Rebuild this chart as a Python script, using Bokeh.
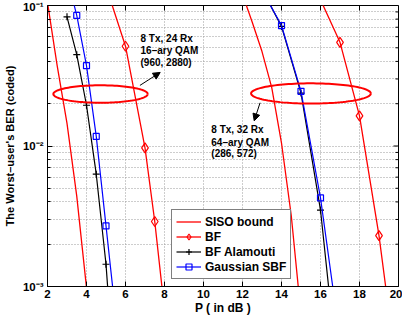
import numpy as np
from bokeh.plotting import figure
from bokeh.models import (FixedTicker, Legend, LegendItem,
                          Arrow, NormalHead, CustomJSTickFormatter)
from bokeh.core.properties import value
from bokeh.embed import file_html
from bokeh.resources import INLINE

# ---------------- data ----------------
# 8 Tx, 24 Rx, 16-ary QAM group
P_siso1 = [2.0, 2.5, 3.0, 3.5, 4.0]
ber_siso1 = [0.105, 0.037, 0.0145, 0.0044, 0.00098]
P_bf1 = [5.0, 6.0, 7.0, 7.5, 8.0]
ber_bf1 = [0.137, 0.0513, 0.0097, 0.0029, 0.00068]
P_ala1 = [3.0, 3.5, 4.0, 4.5, 5.0, 5.5]
ber_ala1 = [0.083, 0.0447, 0.0195, 0.0063, 0.00144, 0.00016]
P_sbf1 = [3.0, 3.5, 4.0, 4.5, 5.0, 5.5]
ber_sbf1 = [0.16, 0.085, 0.0373, 0.0117, 0.0027, 0.00062]

# 8 Tx, 32 Rx, 64-ary QAM group
P_siso2 = [12.0, 12.5, 13.0, 13.5, 14.0, 14.5, 15.0]
ber_siso2 = [0.12, 0.076, 0.047, 0.026, 0.0105, 0.0032, 0.00063]
P_bf2 = [16.0, 17.0, 18.0, 19.0, 20.0]
ber_bf2 = [0.11, 0.0547, 0.0164, 0.0023, 0.0002]
P_ala2 = [13.0, 14.0, 15.0, 16.0, 17.0]
ber_ala2 = [0.13, 0.071, 0.0238, 0.0035, 0.00017]
P_sbf2 = [13.0, 14.0, 15.0, 16.0, 17.0]
ber_sbf2 = [0.129, 0.072, 0.0245, 0.00427, 0.00042]

x_ticks = [2, 4, 6, 8, 10, 12, 14, 16, 18, 20]
y_ticks = [1e-3, 1e-2, 1e-1]
y_minor = [m * 10.0 ** e for e in (-3, -2) for m in range(2, 10)]

legend_labels = ["SISO bound", "BF", "BF Alamouti", "Gaussian SBF"]

# annotations
ell_cx = [4.72, 15.51]
ell_cy_log = [-1.63, -1.626]
ell_ax = [2.42, 3.07]
ell_ay = [0.062, 0.072]

arrow_start = [(6.74, 0.027), (12.9, 0.0203)]
arrow_end = [(7.78, 0.0334), (12.6, 0.0151)]

note1_lines = ["8 Tx, 24 Rx", "16\u2013ary QAM", "(960, 2880)"]
note1_x = 6.77
note1_y = [0.058, 0.0482, 0.0394]
note2_lines = ["8 Tx, 32 Rx", "64\u2013ary QAM", "(286, 572)"]
note2_x = 10.4
note2_y = [0.01315, 0.01054, 0.00885]

FONT = "Liberation Sans"

# ---------------- figure ----------------
p = figure(width=402, height=317, y_axis_type="log",
           x_range=(2, 20), y_range=(1e-3, 1e-1),
           output_backend="svg", toolbar_location=None,
           min_border_left=42, min_border_right=4,
           min_border_top=5, min_border_bottom=0)
p.background_fill_color = "white"
p.outline_line_color = "black"
p.outline_line_width = 1

xa = p.xaxis[0]
xa.ticker = FixedTicker(ticks=x_ticks, minor_ticks=[])
ya = p.yaxis[0]
ya.ticker = FixedTicker(ticks=y_ticks, minor_ticks=y_minor)
ya.formatter = CustomJSTickFormatter(code="""
const sup = {'-':'\u207b','0':'\u2070','1':'\u00b9','2':'\u00b2','3':'\u00b3',
             '4':'\u2074','5':'\u2075','6':'\u2076','7':'\u2077','8':'\u2078','9':'\u2079'};
const e = Math.round(Math.log10(tick));
return '10' + String(e).split('').map(c => sup[c]).join('');
""")

for ax in (xa, ya):
    ax.major_tick_in = 5
    ax.major_tick_out = 0
    ax.minor_tick_in = 3
    ax.minor_tick_out = 0
    ax.axis_line_color = "black"
    ax.major_tick_line_color = "black"
    ax.minor_tick_line_color = "black"
    ax.major_label_text_font = FONT
    ax.major_label_text_font_style = "bold"
    ax.major_label_text_font_size = "11.5px"
    ax.major_label_text_color = "black"
    ax.axis_label_text_font = FONT
    ax.axis_label_text_font_style = "bold"
    ax.axis_label_text_color = "black"

xa.axis_label = "P ( in dB )"
xa.axis_label_text_font_size = "12px"
xa.major_label_standoff = 3
xa.axis_label_standoff = 0
ya.axis_label = "The Worst\u2013user's BER (coded)"
ya.axis_label_text_font_size = "11px"
ya.major_label_standoff = 4
ya.axis_label_standoff = 4

grid_color = "#9a9a9a"
p.xgrid.ticker = FixedTicker(ticks=x_ticks, minor_ticks=[])
p.xgrid.grid_line_color = grid_color
p.xgrid.grid_line_dash = "1 2"
p.ygrid.grid_line_color = grid_color
p.ygrid.grid_line_dash = "1 2"
p.ygrid.minor_grid_line_color = grid_color
p.ygrid.minor_grid_line_dash = "1 2"

# tick marks on the top and right edges of the box (inward)
top_y = [y_ticks[-1]] * len(x_ticks)
p.ray(x=x_ticks, y=top_y, length=5, length_units="screen",
      angle=-np.pi / 2, color="black", line_width=1)
right_x_major = [x_ticks[-1]] * len(y_ticks)
p.ray(x=right_x_major, y=y_ticks, length=5, length_units="screen",
      angle=np.pi, color="black", line_width=1)
right_x_minor = [x_ticks[-1]] * len(y_minor)
p.ray(x=right_x_minor, y=y_minor, length=3, length_units="screen",
      angle=np.pi, color="black", line_width=1)

# ---------------- curves ----------------
RED, BLUE, BLACK = "#ff0000", "#0000ff", "#000000"

r_siso1 = p.line(P_siso1, ber_siso1, color=RED, line_width=1.3)
r_siso2 = p.line(P_siso2, ber_siso2, color=RED, line_width=1.3)

r_bf1 = p.line(P_bf1, ber_bf1, color=RED, line_width=1.3)
m_bf1 = p.scatter(P_bf1, ber_bf1, marker="diamond", size=10, line_color=RED,
                  fill_color=None, line_width=1.2)
r_bf2 = p.line(P_bf2, ber_bf2, color=RED, line_width=1.3)
p.scatter(P_bf2, ber_bf2, marker="diamond", size=10, line_color=RED,
          fill_color=None, line_width=1.2)

r_ala1 = p.line(P_ala1, ber_ala1, color=BLACK, line_width=1.2)
m_ala1 = p.scatter(P_ala1, ber_ala1, marker="cross", size=7, line_color=BLACK, line_width=1.2)
r_ala2 = p.line(P_ala2, ber_ala2, color=BLACK, line_width=1.2)
p.scatter(P_ala2, ber_ala2, marker="cross", size=7, line_color=BLACK, line_width=1.2)

r_sbf1 = p.line(P_sbf1, ber_sbf1, color=BLUE, line_width=1.2)
m_sbf1 = p.scatter(P_sbf1, ber_sbf1, marker="square", size=6, line_color=BLUE,
                   fill_color=None, line_width=1.2)
r_sbf2 = p.line(P_sbf2, ber_sbf2, color=BLUE, line_width=1.2)
p.scatter(P_sbf2, ber_sbf2, marker="square", size=6, line_color=BLUE,
          fill_color=None, line_width=1.2)

# ---------------- annotations ----------------
t = np.linspace(0, 2 * np.pi, 120)
for cx, cy, a, b in zip(ell_cx, ell_cy_log, ell_ax, ell_ay):
    p.line(cx + a * np.cos(t), 10 ** (cy + b * np.sin(t)), color=RED, line_width=2)

for (xs, ys), (xe, ye) in zip(arrow_start, arrow_end):
    p.add_layout(Arrow(x_start=xs, y_start=ys, x_end=xe, y_end=ye,
                       line_color="black", line_width=1,
                       end=NormalHead(size=7, fill_color="black", line_color="black")))

for lines, xx, yy in ((note1_lines, note1_x, note1_y), (note2_lines, note2_x, note2_y)):
    p.text(x=[xx] * len(lines), y=yy, text=lines,
           text_font=value(FONT), text_font_style="bold", text_font_size="10px",
           text_baseline="middle", text_align="left", text_color="black")

# ---------------- legend ----------------
items = [
    LegendItem(label=legend_labels[0], renderers=[r_siso1]),
    LegendItem(label=legend_labels[1], renderers=[r_bf1, m_bf1]),
    LegendItem(label=legend_labels[2], renderers=[r_ala1, m_ala1]),
    LegendItem(label=legend_labels[3], renderers=[r_sbf1, m_sbf1]),
]
legend = Legend(items=items, location=(124, 7),
                label_text_font=FONT, label_text_font_style="bold",
                label_text_font_size="12px", label_text_color="black",
                border_line_color="black", border_line_width=1,
                background_fill_color="white", background_fill_alpha=1,
                padding=4, spacing=0, margin=0,
                glyph_width=25, glyph_height=15, label_height=15, label_standoff=4)
p.add_layout(legend)

open("out.html", "w").write(file_html(p, INLINE))
